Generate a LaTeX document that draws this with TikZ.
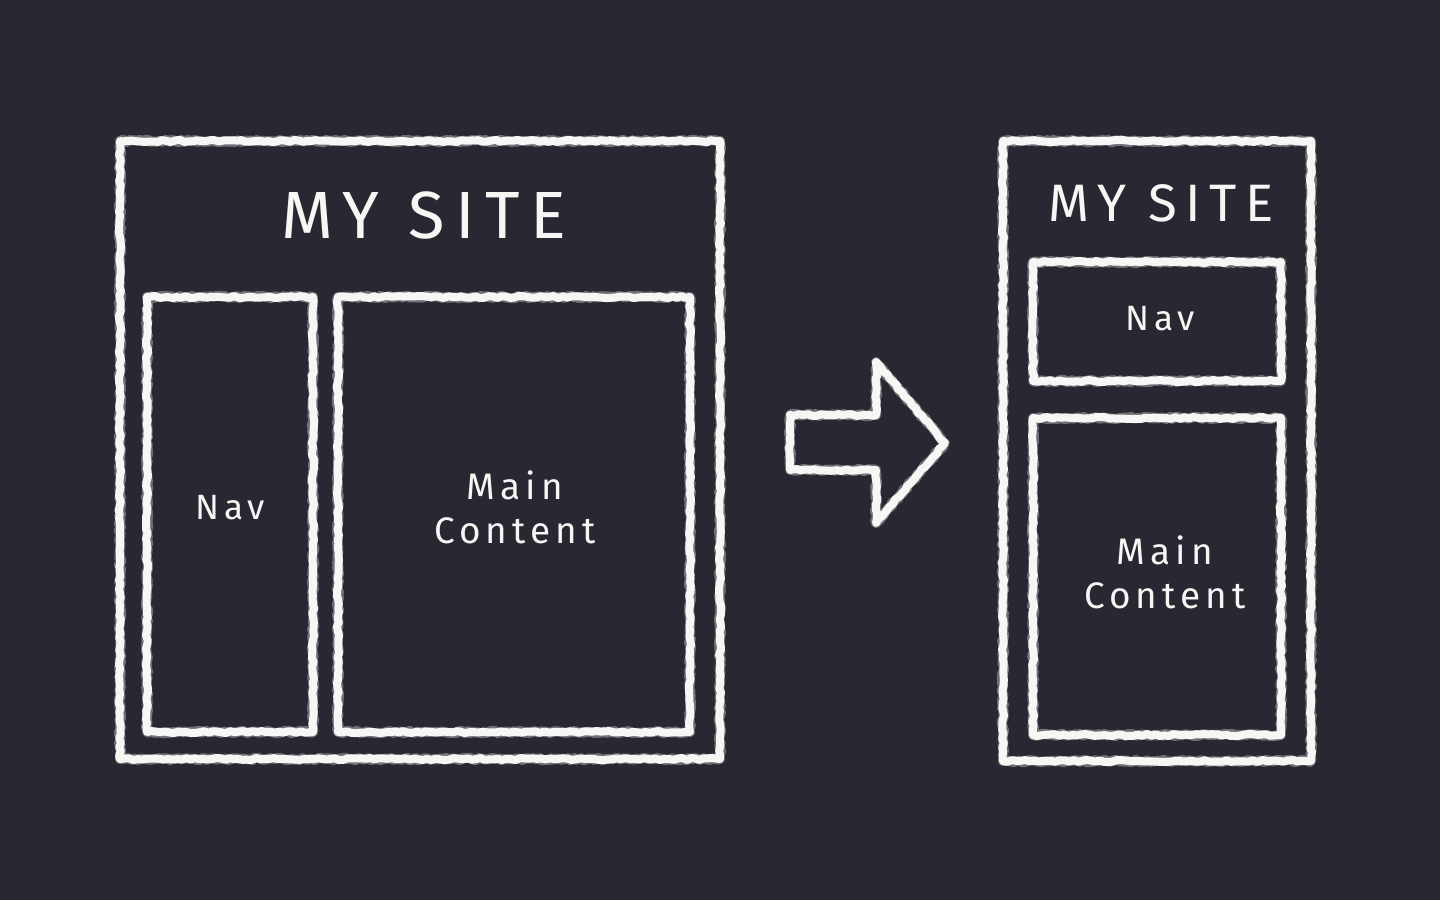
\documentclass[tikz,border=0pt]{standalone}
\usepackage{fontspec}
\setmainfont{Fira Sans}
\newfontfamily\titlefont[LetterSpace=16]{Fira Sans}
\newfontfamily\boxfont[LetterSpace=14]{Fira Sans}
\usetikzlibrary{decorations.pathmorphing}
\definecolor{board}{RGB}{41,39,50}
\definecolor{chalk}{RGB}{246,246,244}
\tikzset{
  chalkline/.style={draw=chalk, line width=0.16cm, line join=round,
    decorate, decoration={random steps, segment length=2.5pt, amplitude=0.6pt}},
  chalkdust/.style={draw=chalk, line width=0.2cm, line join=round, opacity=0.35,
    decorate, decoration={random steps, segment length=1.5pt, amplitude=0.7pt}},
  label/.style={text=chalk, align=center, inner sep=0pt},
}
\begin{document}
\pgfmathsetseed{7}
\begin{tikzpicture}[x=0.02cm, y=-0.02cm]
  \fill[board] (0,0) rectangle (1440,900);
  \useasboundingbox (0,0) rectangle (1440,900);

  % desktop layout
  \foreach \s in {chalkdust,chalkline}{
    \path[\s] (120,141) rectangle (720,759);
    \path[\s] (147,297) rectangle (313,732);
    \path[\s] (338,297) rectangle (690,732);
  }
  \node[label, font=\titlefont\fontsize{38}{40}\selectfont] (titleL) at (424,215) {MY SITE};
  \node[label, font=\boxfont\fontsize{20}{23}\selectfont] (navL) at (230,508) {Nav};
  \node[label, font=\boxfont\fontsize{21}{25}\selectfont] (mainL) at (515,507) {Main\\Content};

  % arrow between layouts
  \foreach \s in {chalkdust,chalkline}{
    \path[\s] (790,415) -- (876,415) -- (876,362) -- (945,443) -- (876,523)
      -- (876,470) -- (790,470) -- cycle;
  }

  % mobile layout
  \foreach \s in {chalkdust,chalkline}{
    \path[\s] (1003,141) rectangle (1311,761);
    \path[\s] (1033,262) rectangle (1281,381);
    \path[\s] (1033,418) rectangle (1281,735);
  }
  \node[label, font=\titlefont\fontsize{30}{32}\selectfont] (titleR) at (1161,203) {MY SITE};
  \node[label, font=\boxfont\fontsize{20}{23}\selectfont] (navR) at (1160,319) {Nav};
  \node[label, font=\boxfont\fontsize{21}{25}\selectfont] (mainR) at (1165,572) {Main\\Content};
\end{tikzpicture}
\end{document}
